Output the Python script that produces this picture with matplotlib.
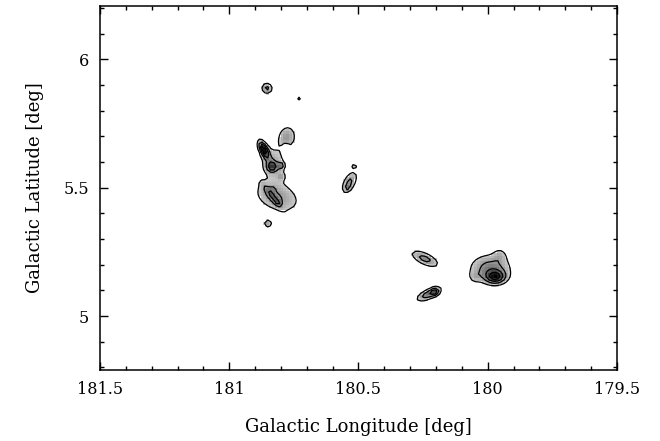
import numpy as np
import matplotlib
matplotlib.use("Agg")
from matplotlib import pyplot as plt
from matplotlib.ticker import MultipleLocator

# clumps: galactic longitude, latitude, peak, width along / across, tilt (deg on screen)
clump_lon = [180.854, 180.777, 180.730,
             180.777, 180.781,
             180.866, 180.835, 180.800, 180.830, 180.800,
             180.815, 180.835, 180.832, 180.812,
             180.850,
             180.535, 180.542, 180.517,
             180.243, 180.227, 180.204,
             179.990, 179.970, 179.953, 180.050]
clump_lat = [5.887, 5.848, 5.848,
             5.696, 5.660,
             5.648, 5.582, 5.586, 5.598, 5.543,
             5.465, 5.469, 5.495, 5.442,
             5.360,
             5.520, 5.500, 5.585,
             5.223, 5.086, 5.094,
             5.185, 5.152, 5.238, 5.152]
clump_amp = [2.3, 1.05, 1.4,
             2.0, -1.6,
             4.3, 2.6, 2.0, 1.6, 1.15,
             2.0, 1.5, 0.8, 0.8,
             1.7,
             2.3, 1.0, 1.4,
             2.4, 2.8, 1.8,
             2.5, 3.3, 1.0, 0.8]
clump_sa = [0.015, 0.004, 0.008,
            0.032, 0.009,
            0.025, 0.014, 0.008, 0.048, 0.010,
            0.065, 0.040, 0.008, 0.008,
            0.012,
            0.033, 0.006, 0.008,
            0.040, 0.035, 0.010,
            0.055, 0.026, 0.018, 0.015]
clump_sb = [0.015, 0.004, 0.008,
            0.024, 0.009,
            0.010, 0.014, 0.008, 0.036, 0.010,
            0.040, 0.009, 0.008, 0.008,
            0.012,
            0.016, 0.006, 0.008,
            0.016, 0.013, 0.010,
            0.038, 0.017, 0.018, 0.015]
clump_pa = [0, 0, 0,
            80, 0,
            -65, 0, 0, -70, 0,
            -20, -52, 0, 0,
            0,
            63, 0, 0,
            -25, 25, 0,
            0, 0, 0, 0]

contour_levels = [1.0, 2.0, 3.0, 4.0]

lon = np.arange(181.5, 179.5, -0.011)
lat = np.arange(4.79, 6.21, 0.011)
L, B = np.meshgrid(lon, lat)

# sum of elliptical gaussians, tilt measured on screen (longitude increases leftward)
field = np.zeros_like(L)
for l0, b0, a, sa, sb, pa in zip(clump_lon, clump_lat, clump_amp, clump_sa, clump_sb, clump_pa):
    dx = -(L - l0)
    dy = B - b0
    t = np.radians(pa)
    u = dx * np.cos(t) + dy * np.sin(t)
    v = -dx * np.sin(t) + dy * np.cos(t)
    field += a * np.exp(-0.5 * ((u / sa) ** 2 + (v / sb) ** 2))

shade = np.ma.masked_less(field, 1.0)

plt.rcParams["font.family"] = "DejaVu Serif"
fig = plt.figure(figsize=(6.6, 4.41), dpi=100)
ax = fig.add_axes([0.1515, 0.161, 0.7833, 0.825])

ax.pcolormesh(L, B, shade, cmap="gray_r", vmin=0, vmax=5, shading="nearest")
ax.contour(L, B, field, levels=contour_levels, colors="black", linewidths=0.9)

ax.set_xlim(181.5, 179.5)
ax.set_ylim(4.79, 6.207)
ax.xaxis.set_major_locator(MultipleLocator(0.5))
ax.xaxis.set_minor_locator(MultipleLocator(0.1))
ax.yaxis.set_major_locator(MultipleLocator(0.5))
ax.yaxis.set_minor_locator(MultipleLocator(0.1))
ax.xaxis.set_major_formatter(plt.FuncFormatter(lambda v, p: "%g" % v))
ax.yaxis.set_major_formatter(plt.FuncFormatter(lambda v, p: "%g" % v))
ax.tick_params(which="both", direction="in", top=True, right=True, labelsize=11.5, pad=8)
ax.tick_params(which="major", length=6, width=1)
ax.tick_params(which="minor", length=3, width=1)
for s in ax.spines.values():
    s.set_linewidth(1.1)

ax.set_xlabel("Galactic Longitude [deg]", fontsize=13, labelpad=14)
ax.set_ylabel("Galactic Latitude [deg]", fontsize=13, labelpad=14)

fig.savefig("out.png", dpi=100)
